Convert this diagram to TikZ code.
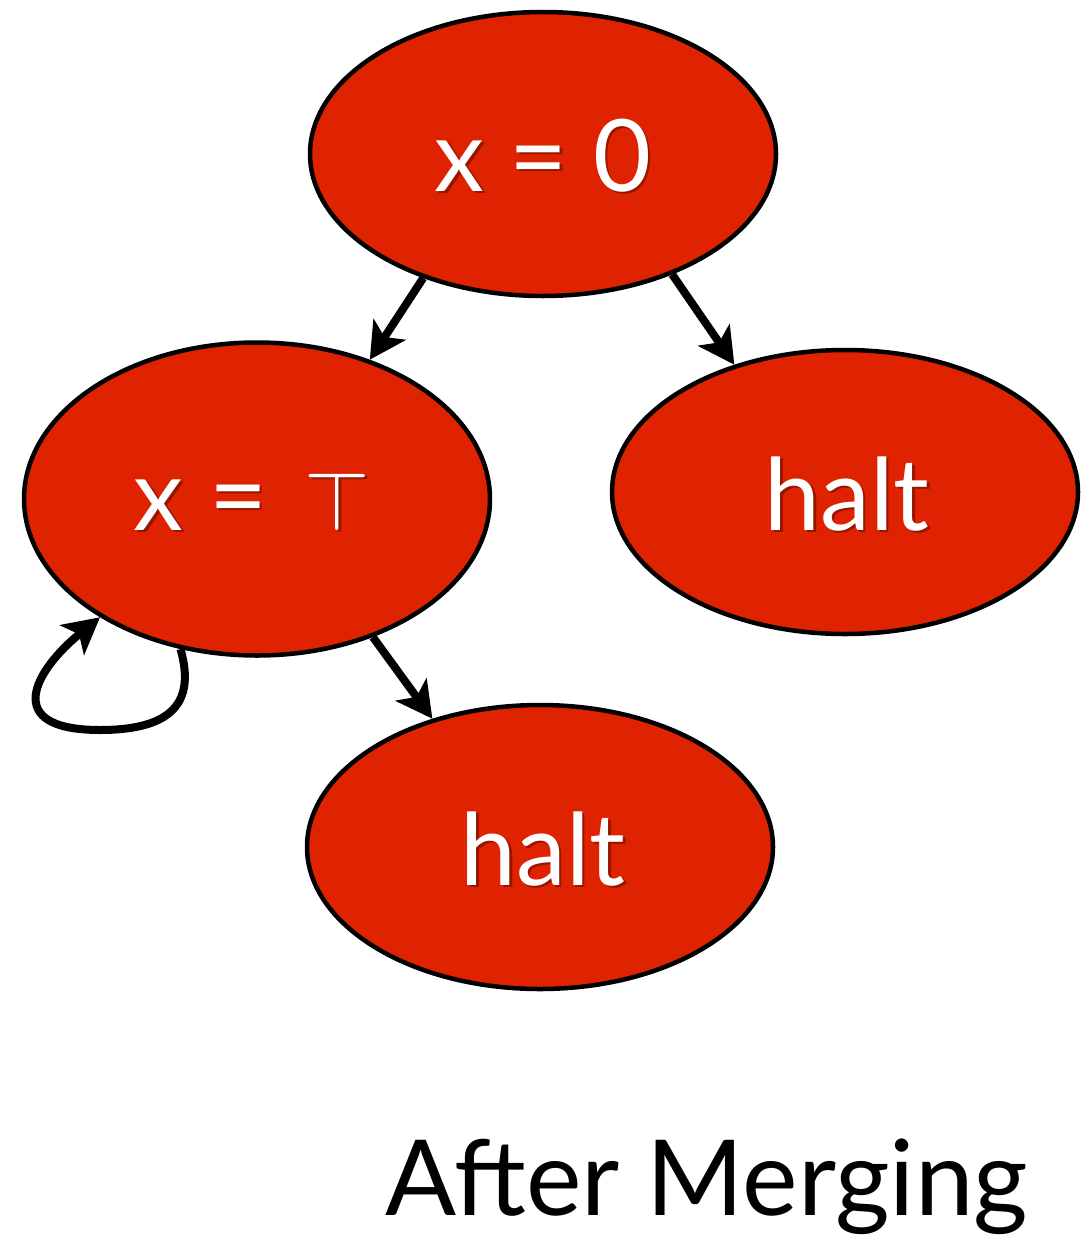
\documentclass[tikz,border=0pt]{standalone}
\usepackage{fontspec}
\usepackage{graphicx}
\setmainfont{Lato}
\usetikzlibrary{shapes.geometric,arrows.meta}
\definecolor{nodered}{RGB}{223,34,0}
\definecolor{shadowred}{RGB}{150,22,0}
\newcommand\shadowtext[1]{\makebox[0pt][l]{\hspace{2.5pt}\raisebox{-2.5pt}{\color{shadowred}#1}}#1}
\newcommand\topsym{\scalebox{8.4}{\fontsize{10}{12}\selectfont$\top$}}
\tikzset{
  state/.style={ellipse, draw=black, line width=4.5pt, fill=nodered, inner sep=0pt,
    minimum width=466pt, minimum height=284pt},
  lbl/.style={text=white, inner sep=0pt, anchor=base, font=\fontsize{100}{110}\selectfont},
  arr/.style={line width=8pt, -{Stealth[length=36pt,width=38pt,inset=9pt]}},
}
\begin{document}
\begin{tikzpicture}[x=1pt,y=-1pt]
\useasboundingbox (0,0) rectangle (1091,1239);
\node[state] (T) at (543,154) {};
\node[state, minimum height=313pt] (L) at (257,499) {};
\node[state] (R) at (845,492) {};
\node[state] (B) at (540,847) {};
% labels
\node[lbl] (Tt) at (543,191) {\shadowtext{x = 0}};
\node[lbl] (Lt) at (252,530) {\shadowtext{x = \hspace{12pt}\topsym}};
\node[lbl] (Rt) at (847,530) {\shadowtext{halt}};
\node[lbl] (Bt) at (543,885) {\shadowtext{halt}};
\node[inner sep=0pt, anchor=base, font=\fontsize{105}{115}\selectfont] (cap) at (707,1215) {After Merging};
% connectors
\draw[arr] (T.226) -- (L.51.6);
\draw[arr] (T.317.6) -- (R.131.2);
\draw[arr] (L.310.3) -- (B.130.9);
\draw[arr] (L.243) .. controls (195,700) and (175,730) .. (100,730)
  .. controls (0,730) and (35,670) .. (L.217);
\end{tikzpicture}
\end{document}
